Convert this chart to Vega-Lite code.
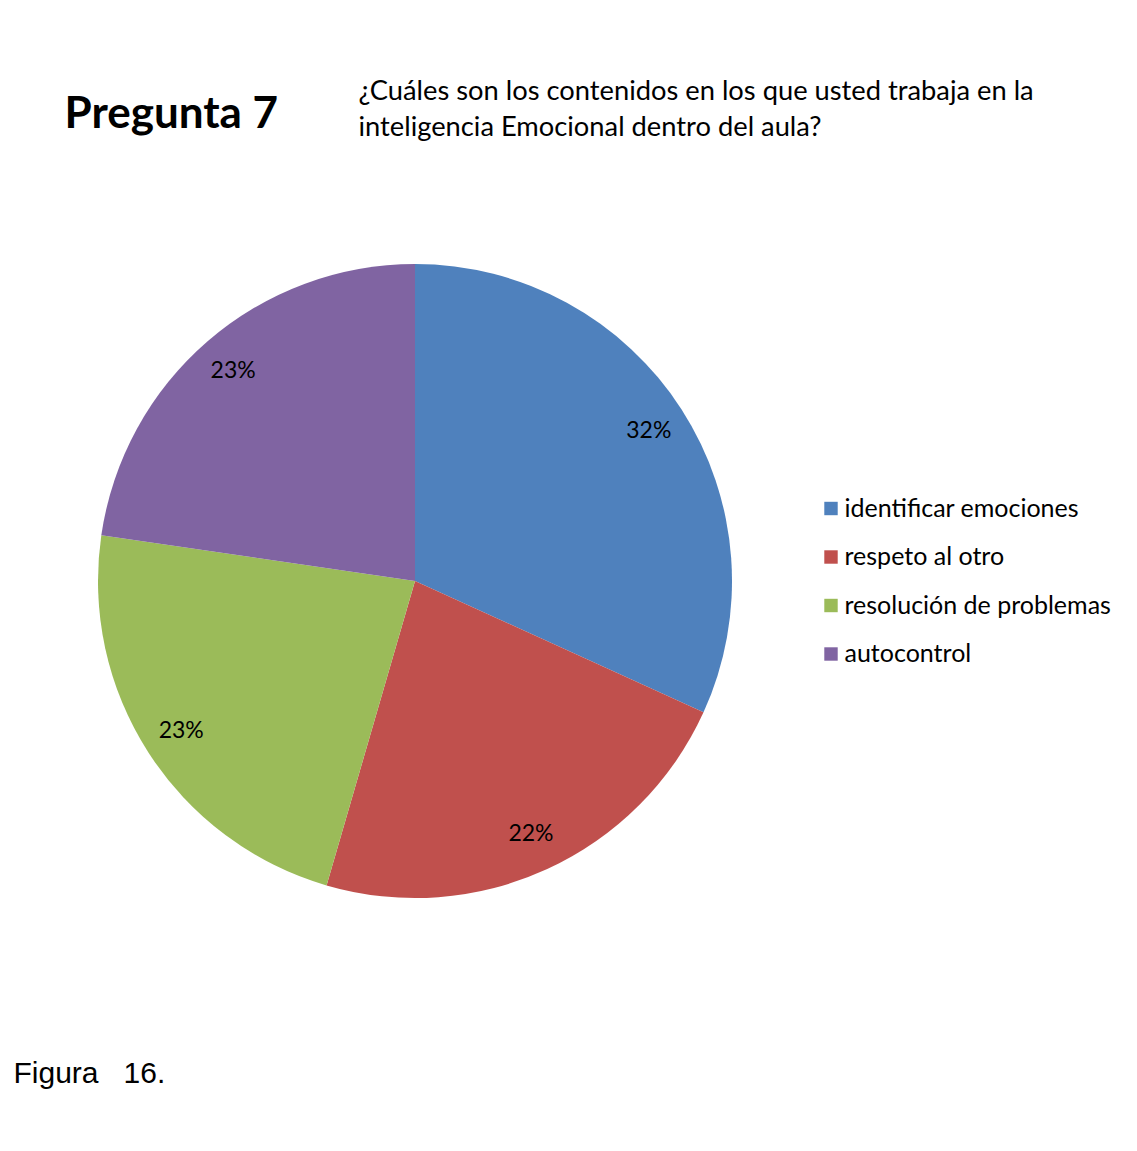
{
  "$schema": "https://vega.github.io/schema/vega-lite/v6.json",
  "background": "white",
  "padding": {"left": 13, "top": 77, "right": 0, "bottom": 0},
  "config": {"view": {"stroke": null}},
  "title": {
    "text": "Figura \u00a0\u00a016.",
    "orient": "bottom",
    "anchor": "start",
    "frame": "group",
    "dx": -84.5,
    "offset": 161,
    "font": "Liberation Sans",
    "fontSize": 30,
    "fontWeight": "normal",
    "color": "black"
  },
  "vconcat": [
    {
      "title": {
        "text": "Pregunta 7",
        "anchor": "start",
        "frame": "group",
        "dx": -33.5,
        "dy": 63,
        "font": "Lato",
        "fontSize": 44,
        "fontWeight": "bold",
        "color": "black"
      },
      "vconcat": [
        {
          "title": {
            "text": [
              "¿Cuáles son los contenidos en los que usted trabaja en la",
              "inteligencia Emocional dentro del aula?"
            ],
            "anchor": "start",
            "frame": "group",
            "dx": 260.5,
            "offset": 123,
            "font": "Lato",
            "fontSize": 27.3,
            "lineHeight": 36,
            "fontWeight": "normal",
            "color": "black"
          },
          "width": 634,
          "height": 634,
          "data": {
            "values": [
              {"categoria": "identificar emociones", "valor": 31.8, "etiqueta": "32%", "orden": 1},
              {"categoria": "respeto al otro", "valor": 22.7, "etiqueta": "22%", "orden": 2},
              {"categoria": "resolución de problemas", "valor": 22.8, "etiqueta": "23%", "orden": 3},
              {"categoria": "autocontrol", "valor": 22.7, "etiqueta": "23%", "orden": 4}
            ]
          },
          "encoding": {
            "theta": {"field": "valor", "type": "quantitative", "stack": true},
            "order": {"field": "orden", "type": "quantitative"}
          },
          "layer": [
            {
              "mark": {"type": "arc", "outerRadius": 317},
              "encoding": {
                "color": {
                  "field": "categoria",
                  "type": "nominal",
                  "scale": {
                    "domain": ["identificar emociones", "respeto al otro", "resolución de problemas", "autocontrol"],
                    "range": ["#4F81BD", "#C0504D", "#9BBB59", "#8064A2"]
                  },
                  "legend": {
                    "title": null,
                    "orient": "none",
                    "legendX": 720.5,
                    "legendY": 232,
                    "symbolType": "square",
                    "symbolSize": 180,
                    "symbolStrokeWidth": 0,
                    "labelFont": "Lato",
                    "labelFontSize": 25,
                    "labelColor": "black",
                    "labelOffset": 1,
                    "rowPadding": 22.5,
                    "labelLimit": 400
                  }
                }
              }
            },
            {
              "mark": {"type": "text", "radius": 278, "font": "Lato", "fontSize": 23, "color": "black"},
              "encoding": {
                "text": {"field": "etiqueta", "type": "nominal"}
              }
            }
          ]
        }
      ]
    }
  ]
}
